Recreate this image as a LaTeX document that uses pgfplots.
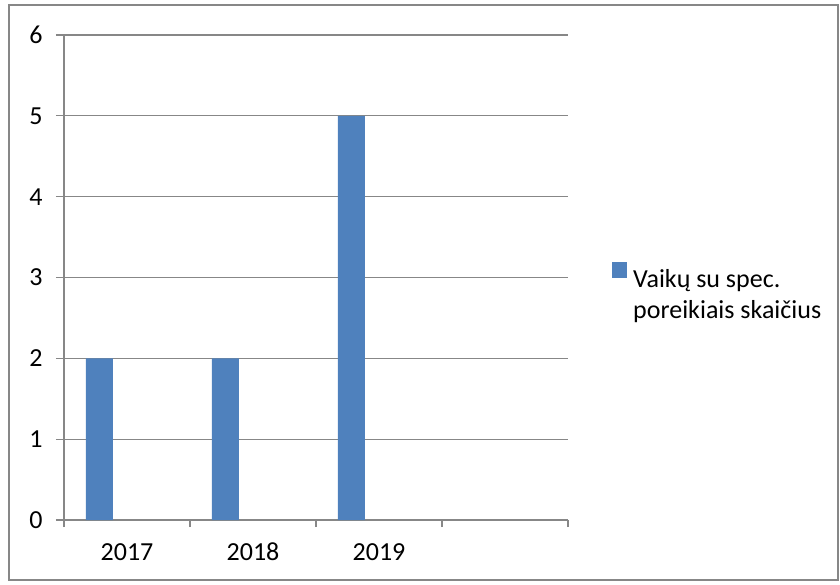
\documentclass[border=0pt]{standalone}
\usepackage{fontspec}
\setmainfont{Carlito}
\usepackage{pgfplots}
\pgfplotsset{compat=1.18}
\definecolor{barblue}{HTML}{4F81BD}
\definecolor{linegray}{HTML}{878787}

\begin{document}
\fontsize{13pt}{15.5pt}\selectfont
\begin{tikzpicture}
\useasboundingbox (-32pt,-32pt) rectangle (388pt,260pt);
% outer chart frame
\draw[linegray, line width=0.6pt] (-27.5pt,-30pt) rectangle (387pt,257.5pt);
\begin{axis}[
    at={(0pt,0pt)}, anchor=south west,
    scale only axis,
    width=252pt, height=242.5pt,
    xmin=-0.5, xmax=3.5,
    ymin=0, ymax=6,
    axis lines*=left,
    axis line style={linegray, line width=0.6pt, -},
    xtick={0,1,2,3},
    xticklabels={2017,2018,2019,{}},
    minor xtick={-0.5,0.5,1.5,2.5,3.5},
    ytick={0,1,...,6},
    tick align=outside,
    major x tick style={draw=none},
    minor x tick style={linegray, line width=0.6pt},
    minor tick length=3.5pt,
    ytick style={linegray, line width=0.6pt},
    major tick length=4pt,
    ymajorgrids,
    major grid style={linegray, line width=0.6pt},
    /pgf/number format/assume math mode=true,
    ticklabel style={font=\fontsize{13pt}{15.5pt}\selectfont},
    yticklabel style={anchor=east, inner sep=0pt, xshift=-6.5pt},
    xticklabel style={anchor=base, inner sep=0pt, yshift=-16pt},
    legend style={at={(1.087,0.532)}, anchor=north west, draw=none,
        inner sep=0pt, nodes={inner sep=0pt}, column sep=3pt,
        font=\fontsize{13pt}{15.5pt}\selectfont},
    legend image code/.code={\fill[barblue] (0pt,0pt) rectangle (7.5pt,8pt);},
]
\addplot[ybar, fill=barblue, draw=none, bar width=13.5pt, bar shift=-13.75pt]
    coordinates {(0,2) (1,2) (2,5)};
\addlegendentry{\begin{tabular}[t]{@{}l@{}}Vaikų su spec.\\poreikiais skaičius\end{tabular}}
\end{axis}
\end{tikzpicture}
\end{document}
